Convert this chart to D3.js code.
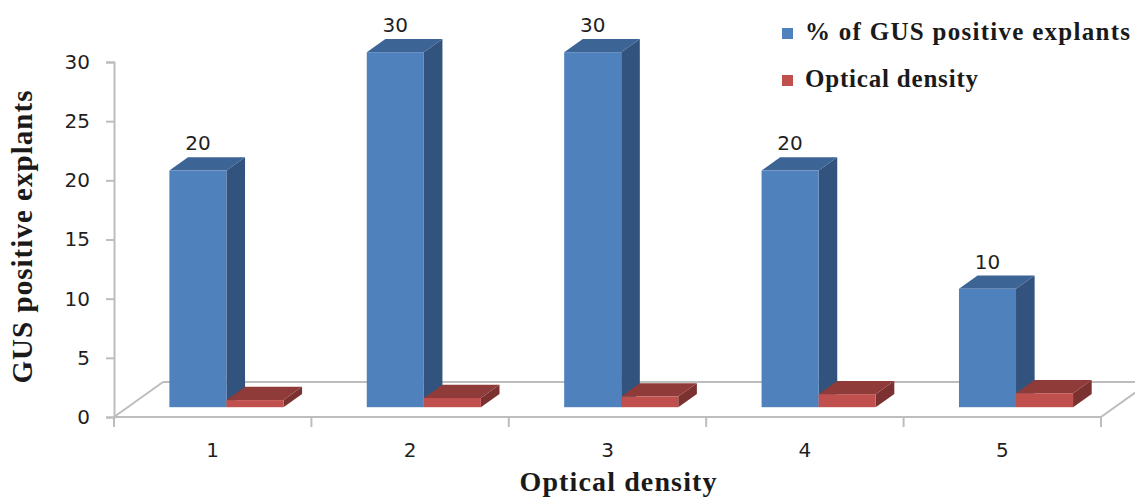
<!DOCTYPE html>
<html>
<head>
<meta charset="utf-8">
<script src="https://cdn.jsdelivr.net/npm/d3@7"></script>
<style>
  body { margin: 0; background: #fff; }
  svg { display: block; }
</style>
</head>
<body>
<svg id="chart" width="1135" height="497"></svg>
<script>
(() => {
  // values
  const categories = ["1", "2", "3", "4", "5"];
  const seriesNames = ["% of GUS positive explants", "Optical density"];
  const gusPositive = [20, 30, 30, 20, 10];
  const opticalDensity = [0.6, 0.78, 0.9, 1.1, 1.18];
  const yTicks = [0, 5, 10, 15, 20, 25, 30];

  const colors = {
    blue: { front: "#4f81bd", top: "#3c6596", side: "#31537d" },
    red: { front: "#c0504d", top: "#8f3b39", side: "#7b312f" }
  };
  const palette = [colors.blue, colors.red];

  const svg = d3.select("#chart");

  // floor depth vector and where bars sit inside it
  const depth = { dx: 49, dy: -35 };
  const barFront = 0.28;
  const barBack = 0.66;

  const x = d3.scaleBand().domain(categories).range([114, 1101]).padding(0);
  const xSeries = d3.scaleBand().domain([0, 1]).range([0, x.bandwidth()])
    .paddingInner(0).paddingOuter(0.73);
  const y = d3.scaleLinear().domain([0, 30]).range([417, 62]);

  const floorColor = "#bdbdbd";
  const g = svg.append("g");

  // floor outline
  const x0 = x.range()[0], x1 = x.range()[1], y0 = y(0);
  const floor = [
    [[x0, y0], [x1, y0]],
    [[x0 + depth.dx, y0 + depth.dy], [x1 + depth.dx, y0 + depth.dy]],
    [[x0, y0], [x0 + depth.dx, y0 + depth.dy]],
    [[x1, y0], [x1 + depth.dx, y0 + depth.dy]]
  ];
  g.selectAll(".floor").data(floor).enter().append("line")
    .attr("x1", d => d[0][0]).attr("y1", d => d[0][1])
    .attr("x2", d => d[1][0]).attr("y2", d => d[1][1])
    .attr("stroke", floorColor).attr("stroke-width", 2);

  // y axis
  const yAxis = g.append("g")
    .attr("transform", "translate(" + x0 + ",0)")
    .call(d3.axisLeft(y).tickValues(yTicks).tickSize(8).tickPadding(16));
  yAxis.select(".domain").attr("stroke", floorColor).attr("stroke-width", 2);
  yAxis.selectAll(".tick line").attr("stroke", floorColor).attr("stroke-width", 2);
  yAxis.selectAll(".tick text")
    .attr("font-family", "DejaVu Sans, Verdana, sans-serif")
    .attr("font-size", 20).attr("fill", "#1f1f1f");

  // x axis ticks at category boundaries
  const xAxis = g.append("g")
    .attr("transform", "translate(0," + y0 + ")")
    .call(d3.axisBottom(x).tickSize(0).tickPadding(26));
  xAxis.select(".domain").remove();
  xAxis.selectAll(".tick text")
    .attr("font-family", "DejaVu Sans, Verdana, sans-serif")
    .attr("font-size", 20).attr("fill", "#1f1f1f");
  const bounds = categories.map(c => x(c)).concat([x1]);
  g.selectAll(".xtick").data(bounds).enter().append("line")
    .attr("x1", d => d).attr("x2", d => d)
    .attr("y1", y0).attr("y2", y0 + 10)
    .attr("stroke", floorColor).attr("stroke-width", 2);

  // 3D bars
  const fdx = depth.dx * barFront, fdy = depth.dy * barFront;
  const bdx = depth.dx * barBack, bdy = depth.dy * barBack;

  const bars = [];
  categories.forEach((c, i) => {
    [gusPositive[i], opticalDensity[i]].forEach((v, s) => {
      bars.push({ cat: c, series: s, value: v });
    });
  });

  const poly = pts => pts.map(p => p.join(",")).join(" ");

  bars.forEach(b => {
    const left = x(b.cat) + xSeries(b.series);
    const right = left + xSeries.bandwidth();
    const top = y(b.value), bottom = y(0);
    const col = palette[b.series];
    const bar = g.append("g").attr("class", "bar");
    bar.append("polygon")
      .attr("points", poly([[right + fdx, top + fdy], [right + bdx, top + bdy],
        [right + bdx, bottom + bdy], [right + fdx, bottom + fdy]]))
      .attr("fill", col.side);
    bar.append("polygon")
      .attr("points", poly([[left + fdx, top + fdy], [right + fdx, top + fdy],
        [right + bdx, top + bdy], [left + bdx, top + bdy]]))
      .attr("fill", col.top);
    bar.append("rect")
      .attr("x", left + fdx).attr("y", top + fdy)
      .attr("width", right - left).attr("height", bottom - top)
      .attr("fill", col.front);
  });

  // value labels on the blue series
  g.selectAll(".val").data(gusPositive).enter().append("text")
    .attr("x", (d, i) => x(categories[i]) + xSeries(0) + fdx + xSeries.bandwidth() / 2)
    .attr("y", d => y(d) + bdy - 7)
    .attr("text-anchor", "middle")
    .attr("font-family", "DejaVu Sans, Verdana, sans-serif")
    .attr("font-size", 20).attr("fill", "#1f1f1f")
    .text(d => d);

  // axis titles
  svg.append("text")
    .attr("transform", "translate(32,237) rotate(-90)")
    .attr("text-anchor", "middle")
    .attr("font-family", "Liberation Serif, Times New Roman, serif")
    .attr("font-weight", "bold").attr("font-size", 29).attr("fill", "#1a1a1a")
    .attr("textLength", 293).attr("lengthAdjust", "spacing")
    .text("GUS positive explants");

  svg.append("text")
    .attr("x", 618).attr("y", 491)
    .attr("text-anchor", "middle")
    .attr("font-family", "Liberation Serif, Times New Roman, serif")
    .attr("font-weight", "bold").attr("font-size", 28).attr("fill", "#1a1a1a")
    .attr("textLength", 197).attr("lengthAdjust", "spacing")
    .text("Optical density");

  // legend
  const legend = svg.append("g").attr("transform", "translate(782,28)");
  const legendWidths = [325, 173];
  seriesNames.forEach((name, i) => {
    const row = legend.append("g").attr("transform", "translate(0," + i * 47 + ")");
    row.append("rect").attr("width", 11).attr("height", 11)
      .attr("fill", palette[i].front);
    row.append("text")
      .attr("x", 23).attr("y", 12)
      .attr("font-family", "Liberation Serif, Times New Roman, serif")
      .attr("font-weight", "bold").attr("font-size", 25).attr("fill", "#1a1a1a")
      .attr("textLength", legendWidths[i]).attr("lengthAdjust", "spacing")
      .text(name);
  });
})();
</script>
</body>
</html>
